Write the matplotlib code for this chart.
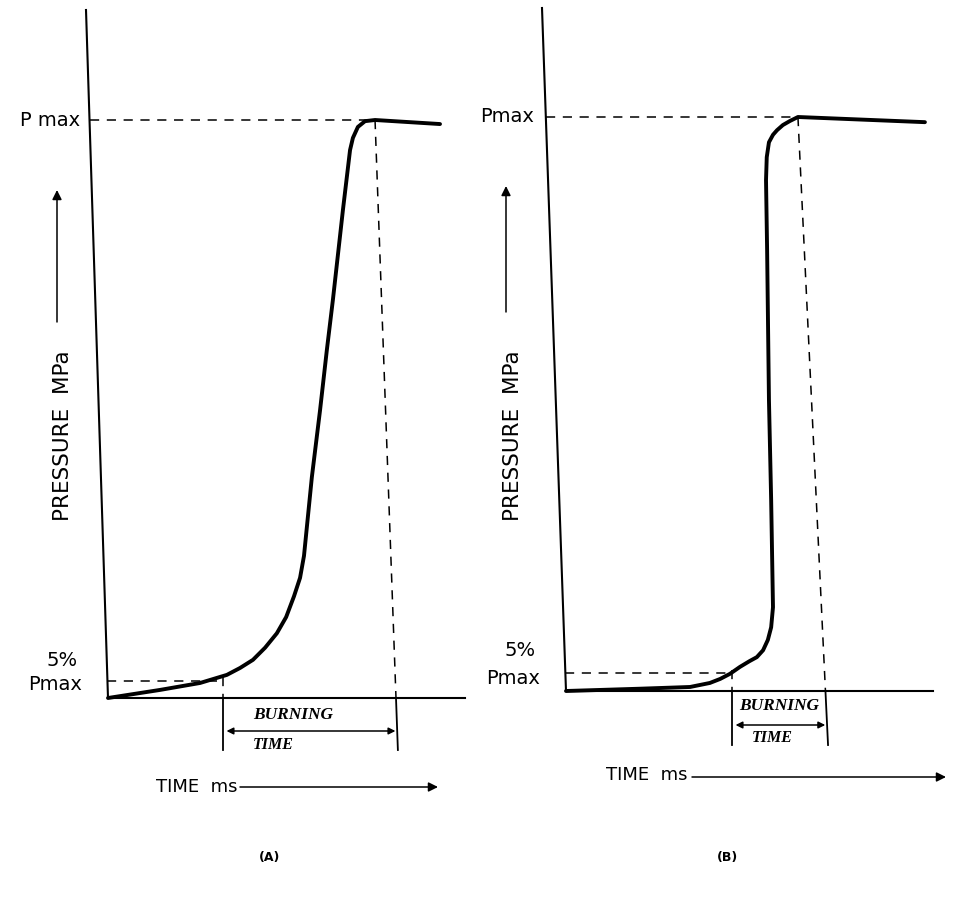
"""
Pressure-time traces (A) slow burn vs (B) fast burn, with burning time bracket.
"""
import matplotlib
matplotlib.use("Agg")
import matplotlib.pyplot as plt

# ──────────────────────────────────────────────────────────────────────────────
# DATA  (time: arbitrary ms, axis length = 10 ; pressure: fraction of Pmax)
# ------------------------------------------------------------------------------
time_a  = [0, 1.46, 2.58, 3.33, 3.70, 4.06, 4.40, 4.73, 4.99, 5.21, 5.38,
           5.49, 5.71, 5.94, 6.13, 6.30, 6.58, 6.78, 6.86, 7.00, 7.20, 7.48, 9.30]
press_a = [0, 0.014, 0.026, 0.040, 0.052, 0.066, 0.087, 0.112, 0.140, 0.176,
           0.208, 0.246, 0.382, 0.498, 0.602, 0.689, 0.844, 0.948, 0.969,
           0.988, 0.998, 1.0, 0.993]

time_b  = [0, 2.02, 3.38, 3.92, 4.20, 4.47, 4.74, 5.00, 5.20, 5.37, 5.50,
           5.59, 5.64, 5.59, 5.53, 5.48, 5.45, 5.47, 5.53, 5.64, 5.75, 5.91,
           6.10, 6.32, 9.78]
press_b = [0, 0.004, 0.007, 0.014, 0.021, 0.030, 0.042, 0.052, 0.059, 0.071,
           0.089, 0.111, 0.146, 0.333, 0.507, 0.768, 0.890, 0.930, 0.956,
           0.969, 0.977, 0.986, 0.993, 1.0, 0.991]

P5          = {"A": 0.030, "B": 0.031}     # 5 % Pmax level as drawn
BURN_START  = {"A": 3.22, "B": 4.52}       # t where 5 % Pmax is reached
PEAK        = {"A": (7.48, 1.0), "B": (6.32, 1.0)}
BURN_END    = {"A": 8.12, "B": 7.14}       # foot of the (slanted) peak drop line

# ──────────────────────────────────────────────────────────────────────────────
# LAYOUT  (pixel origin of each panel, px per time unit, px per Pmax)
# ------------------------------------------------------------------------------
W, H = 954, 906
PANELS = {
    "A": dict(origin=(108, 698), sx=35.7, sy=578, top=(86, 10),
              bot=750, arr=731, burn=(293, 715), time=(273, 745)),
    "B": dict(origin=(566, 691), sx=36.7, sy=574, top=(542, 8),
              bot=745, arr=725, burn=(779, 706), time=(772, 738)),
}

fig = plt.figure(figsize=(W / 100, H / 100), dpi=100)
fig.patch.set_facecolor("white")

SANS  = "DejaVu Sans"
SERIF = "Liberation Serif"


def panel_axes(cfg):
    ox, oy = cfg["origin"]
    ax = fig.add_axes([0, 0, 1, 1])
    ax.set_xlim(-ox / cfg["sx"], (W - ox) / cfg["sx"])
    ax.set_ylim((oy - H) / cfg["sy"], oy / cfg["sy"])
    ax.axis("off")
    ax.patch.set_alpha(0)
    return ax


def to_unit(cfg, px, py):
    ox, oy = cfg["origin"]
    return (px - ox) / cfg["sx"], (oy - py) / cfg["sy"]


def draw_panel(key, t, p, lab):
    cfg = PANELS[key]
    ax  = panel_axes(cfg)
    k   = lambda px, py: to_unit(cfg, px, py)

    # axes (hand drawn: y-axis slightly slanted)
    tx, ty = k(*cfg["top"])
    ax.plot([tx, 0, 10], [ty, 0, 0], color="black", lw=1.5, solid_joinstyle="miter")
    slope = tx / ty                       # axis x-offset per unit pressure

    # pressure trace
    ax.plot(t, p, color="black", lw=2.8, solid_capstyle="round",
            solid_joinstyle="round")

    dash = dict(color="black", lw=1.1, linestyle=(0, (6, 5)))
    pk_t, pk_p = PEAK[key]
    ax.plot([slope * pk_p, pk_t], [pk_p, pk_p], **dash)              # Pmax level
    ax.plot([slope * P5[key], BURN_START[key]], [P5[key], P5[key]], **dash)

    # burning-time bracket
    bot = k(0, cfg["bot"])[1]
    b0  = BURN_START[key]
    ax.plot([b0, b0], [P5[key] + 0.006, 0], **dash)
    ax.plot([b0, b0], [0, bot], color="black", lw=1.3)
    drop = (BURN_END[key] - pk_t) / (pk_p - bot)
    t_axis = pk_t + drop * pk_p
    ax.plot([pk_t, t_axis], [pk_p, 0], **dash)
    ax.plot([t_axis, BURN_END[key]], [0, bot], color="black", lw=1.3)

    arr_y = k(0, cfg["arr"])[1]
    ax.annotate("", xy=(b0 + 0.1, arr_y), xytext=(t_axis + drop * (-arr_y) - 0.05, arr_y),
                arrowprops=dict(arrowstyle="<|-|>", color="black", lw=1.1,
                                mutation_scale=10, shrinkA=0, shrinkB=0))
    ax.text(*k(*cfg["burn"]), "BURNING", ha="center", va="center", family=SERIF,
            style="italic", weight="bold", fontsize=12.5)
    ax.text(*k(*cfg["time"]), "TIME", ha="center", va="center", family=SERIF,
            style="italic", weight="bold", fontsize=11.5)

    # labels
    for txt, (px, py), ha in lab:
        x, y = k(px, py)
        ax.text(x, y, txt, ha=ha, va="center", family=SANS, fontsize=14)
    return ax, k


# ──────────────────────────────────────────────────────────────────────────────
# PANEL A
# ------------------------------------------------------------------------------
ax_a, ka = draw_panel("A", time_a, press_a, [
    ("P max", (80, 120), "right"),
    ("5%",    (62, 660), "center"),
    ("Pmax",  (82, 684), "right"),
])
# ──────────────────────────────────────────────────────────────────────────────
# PANEL B
# ------------------------------------------------------------------------------
ax_b, kb = draw_panel("B", time_b, press_b, [
    ("Pmax", (534, 117), "right"),
    ("5%",   (520, 650), "center"),
    ("Pmax", (540, 678), "right"),
])

arrow = dict(arrowstyle="-|>", color="black", lw=1.1, mutation_scale=14,
             shrinkA=0, shrinkB=0)

for ax, k, ylab_x, arr_x, arr_lo, arr_hi, tm, tm_arr, cap in [
    (ax_a, ka, 63, 57, 322, 190, (197, 787), (240, 438, 787), ("(A)", 270, 857)),
    (ax_b, kb, 513, 506, 312, 186, (647, 775), (692, 946, 777), ("(B)", 727, 857)),
]:
    x, y = k(ylab_x, 436)
    ax.text(x, y, "PRESSURE  MPa", rotation=90, ha="center", va="center",
            family=SANS, fontsize=15.5)
    ax.annotate("", xy=k(arr_x, arr_hi), xytext=k(arr_x, arr_lo), arrowprops=arrow)

    x, y = k(*tm)
    ax.text(x, y, "TIME  ms", ha="center", va="center", family=SANS, fontsize=13)
    ax.annotate("", xy=k(tm_arr[1], tm_arr[2]), xytext=k(tm_arr[0], tm_arr[2]),
                arrowprops=arrow)

    x, y = k(cap[1], cap[2])
    ax.text(x, y, cap[0], ha="center", va="center", family=SANS,
            weight="bold", fontsize=9)

fig.savefig("out.png", dpi=100, facecolor="white")
